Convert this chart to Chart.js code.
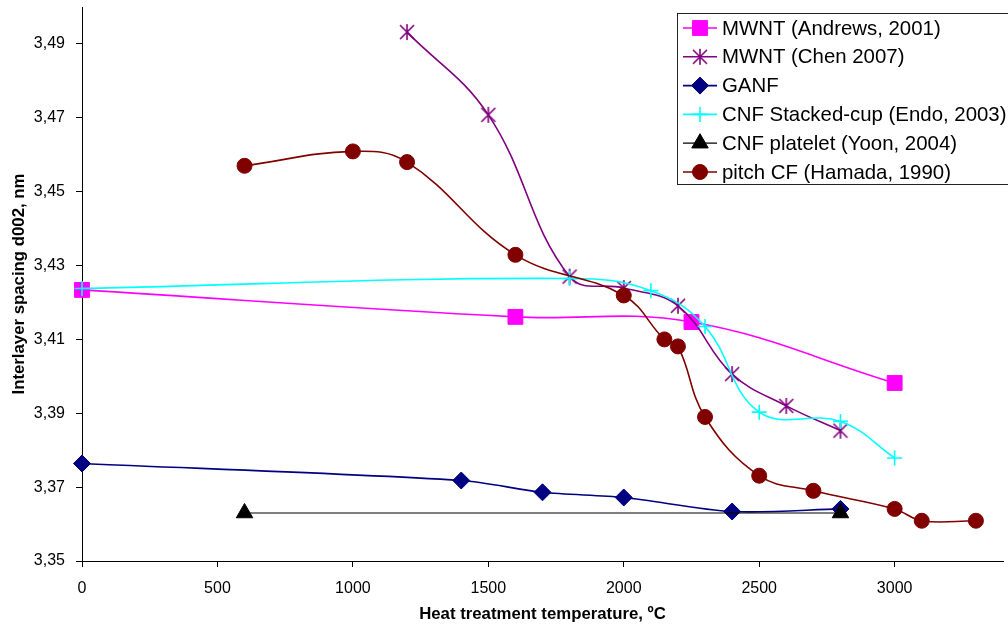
<!DOCTYPE html>
<html>
<head>
<meta charset="utf-8">
<script src="https://cdn.jsdelivr.net/npm/chart.js@4"></script>
<style>
  body { margin: 0; background: #fff; }
  canvas { display: block; }
</style>
</head>
<body>
<canvas id="spacingChart" width="1008" height="626"></canvas>
<script>
// Data
const seriesNames = ['MWNT (Andrews, 2001)', 'MWNT (Chen 2007)', 'GANF',
  'CNF Stacked-cup (Endo, 2003)', 'CNF platelet (Yoon, 2004)', 'pitch CF (Hamada, 1990)'];

const andrewsX = [0, 1600, 2250, 3000];
const andrewsY = [3.4234, 3.4161, 3.4147, 3.3982];

const chenX = [1200, 1500, 1800, 2000, 2200, 2400, 2600, 2800];
const chenY = [3.4932, 3.4708, 3.4270, 3.4239, 3.4191, 3.4006, 3.3920, 3.3853];

const ganfX = [0, 1400, 1700, 2000, 2400, 2800];
const ganfY = [3.3764, 3.3718, 3.3686, 3.3672, 3.3634, 3.3641];

const endoX = [0, 1800, 2100, 2300, 2500, 2800, 3000];
const endoY = [3.4238, 3.4265, 3.4232, 3.4135, 3.3903, 3.3878, 3.3779];

const yoonX = [600, 2800];
const yoonY = [3.3630, 3.3630];

const hamadaX = [600, 1000, 1200, 1600, 2000, 2150, 2200, 2300, 2500, 2700, 3000, 3100, 3300];
const hamadaY = [3.4570, 3.4609, 3.4580, 3.4329, 3.4219, 3.4100, 3.4081, 3.3890, 3.3731, 3.3690, 3.3641, 3.3609, 3.3609];

const xTicks = [0, 500, 1000, 1500, 2000, 2500, 3000];
const yTicks = [3.35, 3.37, 3.39, 3.41, 3.43, 3.45, 3.47, 3.49];

function toPoints(xs, ys) {
    return xs.map((x, i) => ({ x: x, y: ys[i] }));
}

// Excel style asterisk: X with a vertical bar
function makeAsterisk(color) {
    const c = document.createElement('canvas');
    c.width = 18;
    c.height = 18;
    const g = c.getContext('2d');
    g.strokeStyle = color;
    g.lineWidth = 1.6;
    g.beginPath();
    g.moveTo(2, 2); g.lineTo(16, 16);
    g.moveTo(16, 2); g.lineTo(2, 16);
    g.moveTo(9, 1); g.lineTo(9, 17);
    g.stroke();
    return c;
}
const asterisk = makeAsterisk('#800080');

const styles = [
    { color: '#FF00FF', pointStyle: 'rect', radius: 10.5, width: 1.6, tension: 0.4 },
    { color: '#800080', pointStyle: asterisk, radius: 8, width: 1.6, tension: 0.4 },
    { color: '#000080', pointStyle: 'rectRot', radius: 8.5, width: 1.6, tension: 0.3 },
    { color: '#00FFFF', pointStyle: 'cross', radius: 7.5, width: 1.6, tension: 0.4 },
    { color: '#000000', pointStyle: 'triangle', radius: 9.5, width: 1.2, tension: 0 },
    { color: '#800000', pointStyle: 'circle', radius: 7.5, width: 1.6, tension: 0.4 }
];

const allPoints = [
    toPoints(andrewsX, andrewsY),
    toPoints(chenX, chenY),
    toPoints(ganfX, ganfY),
    toPoints(endoX, endoY),
    toPoints(yoonX, yoonY),
    toPoints(hamadaX, hamadaY)
];

const datasets = seriesNames.map((name, i) => ({
    label: name,
    data: allPoints[i],
    borderColor: styles[i].color,
    backgroundColor: styles[i].color,
    borderWidth: styles[i].width,
    pointStyle: styles[i].pointStyle,
    pointRadius: styles[i].radius,
    pointBorderWidth: styles[i].pointStyle === 'cross' ? 1.6 : 1,
    pointBorderColor: styles[i].color,
    pointBackgroundColor: styles[i].color,
    tension: styles[i].tension,
    fill: false,
    clip: false,
    order: seriesNames.length - i
}));

// Legend box drawn over the plot, like the original
const boxLegend = {
    id: 'boxLegend',
    afterDraw(chart) {
        const ctx = chart.ctx;
        const left = 677, top = 13, bottom = 184;
        ctx.save();
        ctx.fillStyle = '#fff';
        ctx.fillRect(left, top, 1012 - left, bottom - top);
        ctx.strokeStyle = '#222';
        ctx.lineWidth = 1;
        ctx.strokeRect(left + 0.5, top + 0.5, 1012 - left, bottom - top);
        ctx.font = '20.4px "Liberation Sans", Arial, sans-serif';
        ctx.textBaseline = 'middle';
        seriesNames.forEach((name, i) => {
            const y = 28 + i * 28.8;
            const st = styles[i];
            ctx.strokeStyle = st.color;
            ctx.fillStyle = st.color;
            ctx.lineWidth = st.width;
            ctx.beginPath();
            ctx.moveTo(683, y);
            ctx.lineTo(717, y);
            ctx.stroke();
            if (st.pointStyle instanceof HTMLCanvasElement) {
                ctx.drawImage(st.pointStyle, 700 - 9, y - 9);
            } else {
                ctx.lineWidth = st.pointStyle === 'cross' ? 1.6 : 1;
                Chart.helpers.drawPoint(ctx, {
                    pointStyle: st.pointStyle, rotation: 0,
                    radius: st.radius, borderWidth: ctx.lineWidth
                }, 700, y);
            }
            ctx.fillStyle = '#000';
            ctx.fillText(name, 722, y + 1);
        });
        ctx.restore();
    }
};

document.addEventListener('DOMContentLoaded', function() {
    const ctx = document.getElementById('spacingChart').getContext('2d');

    window.spacingChart = new Chart(ctx, {
        type: 'line',
        data: { datasets: datasets },
        plugins: [boxLegend],
        options: {
            responsive: false,
            animation: false,
            layout: {
                autoPadding: false,
                padding: { top: 7, right: 5, left: 0, bottom: 0 }
            },
            plugins: {
                legend: { display: false },
                tooltip: { enabled: false }
            },
            scales: {
                x: {
                    type: 'linear',
                    min: 0,
                    max: 3400,
                    afterBuildTicks: function(scale) {
                        scale.ticks = xTicks.map(v => ({ value: v }));
                    },
                    afterFit: function(scale) {
                        scale.height = 65;
                        scale.paddingLeft = 0;
                        scale.paddingRight = 0;
                    },
                    ticks: {
                        color: '#000',
                        padding: 12,
                        maxRotation: 0,
                        font: { family: '"Liberation Sans", Arial, sans-serif', size: 16 },
                        callback: function(value) {
                            return String(value);
                        }
                    },
                    grid: {
                        drawOnChartArea: false,
                        color: '#000',
                        tickLength: 6
                    },
                    border: { color: '#000', width: 1 },
                    title: {
                        display: true,
                        text: 'Heat treatment temperature, ºC',
                        color: '#000',
                        padding: { top: 0, bottom: 2 },
                        font: { family: '"Liberation Sans", Arial, sans-serif', size: 16.8, weight: 'bold' }
                    }
                },
                y: {
                    type: 'linear',
                    min: 3.35,
                    max: 3.50,
                    afterBuildTicks: function(scale) {
                        scale.ticks = yTicks.map(v => ({ value: v }));
                    },
                    afterFit: function(scale) {
                        scale.width = 82;
                        scale.paddingTop = 0;
                        scale.paddingBottom = 0;
                    },
                    ticks: {
                        color: '#000',
                        padding: 11,
                        font: { family: '"Liberation Sans", Arial, sans-serif', size: 16 },
                        callback: function(value) {
                            return value.toFixed(2).replace('.', ',');
                        }
                    },
                    grid: {
                        drawOnChartArea: false,
                        color: '#000',
                        tickLength: 6
                    },
                    border: { color: '#000', width: 1 },
                    title: {
                        display: true,
                        text: 'Interlayer spacing d002, nm',
                        color: '#000',
                        padding: { top: 9, bottom: 0 },
                        font: { family: '"Liberation Sans", Arial, sans-serif', size: 16.8, weight: 'bold' }
                    }
                }
            }
        }
    });
});
</script>
</body>
</html>
